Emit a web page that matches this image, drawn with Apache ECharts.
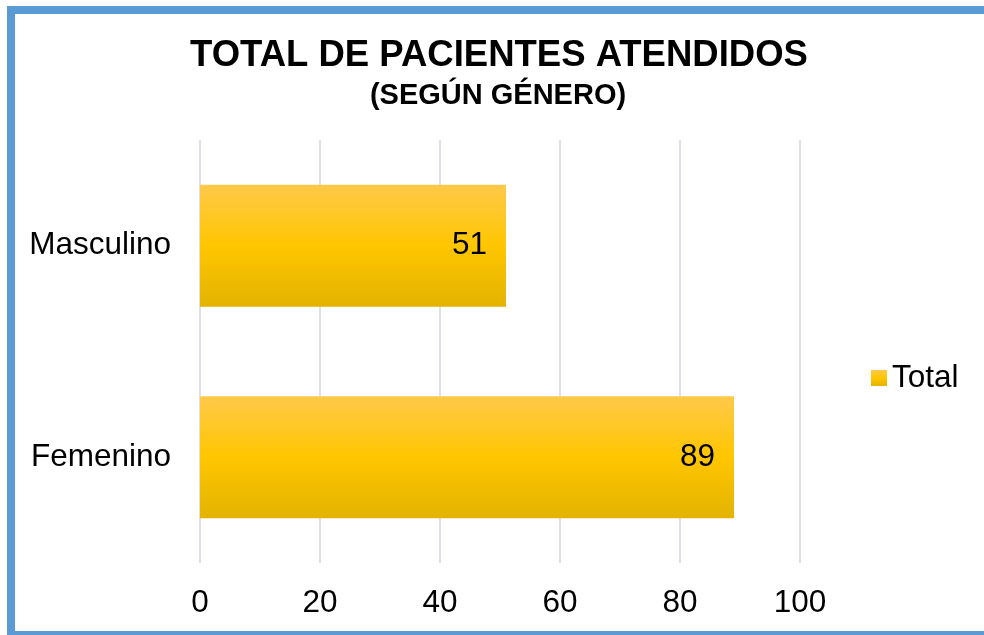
<!DOCTYPE html>
<html>
<head>
<meta charset="utf-8">
<script src="https://cdn.jsdelivr.net/npm/echarts@6/dist/echarts.min.js"></script>
<style>
  html, body { margin: 0; padding: 0; background: #fff; }
  #chart { width: 984px; height: 635px; }
</style>
</head>
<body>
<div id="chart"></div>
<script>
const categories = ['Masculino', 'Femenino'];
const totals = [51, 89];
const seriesName = 'Total';
const titleText = 'TOTAL DE PACIENTES ATENDIDOS';
const subtitleText = '(SEGÚN GÉNERO)';

const chartDom = document.getElementById('chart');
const myChart = echarts.init(chartDom);
const font = '"Liberation Sans", Arial, sans-serif';

// yellow bar fill, light on top and darker at the bottom
const barFill = new echarts.graphic.LinearGradient(0, 0, 0, 1, [
    {offset: 0, color: '#FFC94A'},
    {offset: 0.5, color: '#FFC600'},
    {offset: 1, color: '#E3B300'}
]);

const option = {
    animation: false,
    backgroundColor: '#fff',
    title: [
        {
            text: titleText,
            left: 494,
            top: 32,
            textAlign: 'center',
            textStyle: {fontFamily: font, fontSize: 36.5, fontWeight: 'bold', color: '#000'}
        },
        {
            text: subtitleText,
            left: 493,
            top: 76,
            textAlign: 'center',
            textStyle: {fontFamily: font, fontSize: 29, fontWeight: 'bold', color: '#000'}
        }
    ],
    legend: {
        orient: 'vertical',
        left: 866,
        top: 357,
        itemWidth: 16,
        itemHeight: 16,
        icon: 'rect',
        textStyle: {fontFamily: font, fontSize: 31.5, color: '#000'},
        data: [seriesName]
    },
    grid: {left: 200, right: 184, top: 140, bottom: 72, containLabel: false},
    xAxis: {
        type: 'value',
        min: 0,
        max: 100,
        interval: 20,
        axisLine: {show: false},
        axisTick: {show: false},
        splitLine: {lineStyle: {color: '#DCE1E8', width: 2}},
        axisLabel: {margin: 24, fontFamily: font, fontSize: 31.5, color: '#000'}
    },
    yAxis: {
        type: 'category',
        inverse: true,
        data: categories,
        axisLine: {show: false},
        axisTick: {show: false},
        axisLabel: {margin: 29, fontFamily: font, fontSize: 31.5, color: '#000'}
    },
    series: [
        {
            name: seriesName,
            type: 'bar',
            data: totals,
            barWidth: 122,
            itemStyle: {color: barFill},
            label: {
                show: true,
                position: 'insideRight',
                distance: 19,
                fontFamily: font,
                fontSize: 31.5,
                color: '#000'
            }
        }
    ],
    graphic: [
        {
            type: 'rect',
            silent: true,
            shape: {x: 11, y: 10, width: 1000, height: 625},
            style: {fill: 'none', stroke: '#5B9BD5', lineWidth: 8}
        }
    ]
};

myChart.setOption(option);
</script>
</body>
</html>
